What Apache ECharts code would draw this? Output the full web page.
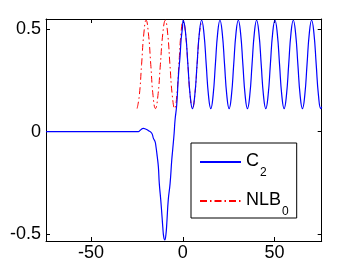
<!DOCTYPE html>
<html>
<head>
<meta charset="utf-8">
<script src="https://cdn.jsdelivr.net/npm/echarts@6/dist/echarts.min.js"></script>
<style>
html,body{margin:0;padding:0;background:#fff;}
#c{width:355px;height:271px;}
</style>
</head>
<body>
<div id="c"></div>
<script>
// Tick labels
var xTicks = [-50, 0, 50];
var yTicks = [-0.5, 0, 0.5];

// Series C_2 (blue, solid)
var c2X = [-74.6, -24.2, -23.4, -22.5, -21.5, -20.3, -18.8, -16.9, -16.0, -15.1, -14.6, -13.9, -13.3, -12.8, -12.0, -11.3, -10.9, -10.4, -9.8, -9.2, -8.7, -7.9, -6.9, -6.0, -5.5, -4.7, -4.2, -3.3, -2.4, -1.5, -0.9, -0.2, 0.3,
  1.55, 2.8, 4.05, 5.3, 6.55, 7.8, 9.05, 10.3,
  11.55, 12.8, 14.05, 15.3, 16.55, 17.8, 19.05, 20.3,
  21.55, 22.8, 24.05, 25.3, 26.55, 27.8, 29.05, 30.3,
  31.55, 32.8, 34.05, 35.3, 36.55, 37.8, 39.05, 40.3,
  41.55, 42.8, 44.05, 45.3, 46.55, 47.8, 49.05, 50.3,
  51.55, 52.8, 54.05, 55.3, 56.55, 57.8, 59.05, 60.3,
  61.55, 62.8, 64.05, 65.3, 66.55, 67.8, 69.05, 70.3,
  71.55, 72.8, 74.05, 75.3, 75.8];
var c2Y = [0, 0, 0.005, 0.012, 0.016, 0.013, 0.006, -0.008, -0.033, -0.049, -0.074, -0.123, -0.172, -0.253, -0.334, -0.416, -0.465, -0.514, -0.530, -0.505, -0.448, -0.334, -0.253, -0.139, -0.09, -0.008, 0.057, 0.13, 0.268, 0.366, 0.448, 0.505, 0.545,
  0.482, 0.329, 0.176, 0.113, 0.176, 0.329, 0.482, 0.545,
  0.482, 0.329, 0.176, 0.113, 0.176, 0.329, 0.482, 0.545,
  0.482, 0.329, 0.176, 0.113, 0.176, 0.329, 0.482, 0.545,
  0.482, 0.329, 0.176, 0.113, 0.176, 0.329, 0.482, 0.545,
  0.482, 0.329, 0.176, 0.113, 0.176, 0.329, 0.482, 0.545,
  0.482, 0.329, 0.176, 0.113, 0.176, 0.329, 0.482, 0.545,
  0.482, 0.329, 0.176, 0.113, 0.176, 0.329, 0.482, 0.545,
  0.482, 0.329, 0.176, 0.113, 0.122];

// Series NLB_0 (red, dash-dot)
var nlbX = [-24.9, -23.7, -22.45, -21.2, -20.0, -18.75, -17.45, -16.2, -14.9, -13.55, -12.2, -10.85, -9.5, -8.25, -7.0, -5.7, -4.4, -3.25, -2.1, -0.95, 0.25, 1.5, 2.8, 4.05, 5.3, 6.55, 7.85, 9.1, 10.4];
var nlbY = [0.113, 0.176, 0.329, 0.482, 0.545, 0.482, 0.329, 0.176, 0.113, 0.176, 0.329, 0.482, 0.545, 0.482, 0.329, 0.176, 0.113, 0.176, 0.329, 0.482, 0.545, 0.482, 0.329, 0.176, 0.113, 0.176, 0.329, 0.482, 0.545];

function zip(a, b) { var r = []; for (var i = 0; i < a.length; i++) r.push([a[i], b[i]]); return r; }

var FONT = '"Liberation Sans", Arial, Helvetica, sans-serif';
var xMin = -74.6, xMax = 75.8, yMin = -0.535, yMax = 0.551;

function xAxisDef(pos, showLabel) {
  return {
    type: 'value', position: pos, min: xMin, max: xMax,
    axisLine: { show: true, onZero: false, lineStyle: { color: '#000', width: 1 } },
    axisTick: { show: true, inside: true, length: 4, customValues: xTicks, lineStyle: { color: '#000' } },
    axisLabel: { show: showLabel, customValues: xTicks, margin: 3, color: '#000', fontSize: 18, fontFamily: FONT },
    splitLine: { show: false }
  };
}
function yAxisDef(pos, showLabel) {
  return {
    type: 'value', position: pos, min: yMin, max: yMax,
    axisLine: { show: true, onZero: false, lineStyle: { color: '#000', width: 1 } },
    axisTick: { show: true, inside: true, length: 4, customValues: yTicks, lineStyle: { color: '#000' } },
    axisLabel: { show: showLabel, customValues: yTicks, margin: 5, color: '#000', fontSize: 18, fontFamily: FONT,
      formatter: function (v) { return String(v); } },
    splitLine: { show: false }
  };
}

var chart = echarts.init(document.getElementById('c'), null, { renderer: 'canvas' });
chart.setOption({
  animation: false,
  backgroundColor: '#fff',
  grid: { left: 46, top: 19, right: 33.3, bottom: 30, containLabel: false },
  xAxis: [xAxisDef('bottom', true), xAxisDef('top', false)],
  yAxis: [yAxisDef('left', true), yAxisDef('right', false)],
  legend: {
    orient: 'vertical', left: 191, top: 143,
    padding: [9, 8, 0, 8], itemGap: 12, itemWidth: 41, itemHeight: 14,
    backgroundColor: '#fff', borderColor: '#000', borderWidth: 1, borderRadius: 0,
    itemStyle: { opacity: 0 },
    data: ['C2', 'NLB0'],
    formatter: function (name) { return name === 'C2' ? '{m|C}{s|2}' : '{m|NLB}{s|0}'; },
    textStyle: {
      color: '#000', fontFamily: FONT,
      rich: {
        m: { fontSize: 18, fontFamily: FONT, color: '#000', lineHeight: 20, verticalAlign: 'top' },
        s: { fontSize: 12, fontFamily: FONT, color: '#000', lineHeight: 12, padding: [15, 0, 0, 1], verticalAlign: 'top' }
      }
    }
  },
  series: [
    {
      name: 'NLB0', type: 'line', data: zip(nlbX, nlbY), symbol: 'none', smooth: true, z: 2,
      lineStyle: { color: '#ff0000', width: 1, type: [7, 3, 1.5, 3] }, itemStyle: { color: '#ff0000' }
    },
    {
      name: 'C2', type: 'line', data: zip(c2X, c2Y), symbol: 'none', smooth: true, z: 3,
      lineStyle: { color: '#0000ff', width: 1.2 }, itemStyle: { color: '#0000ff' }
    }
  ]
});
</script>
</body>
</html>
